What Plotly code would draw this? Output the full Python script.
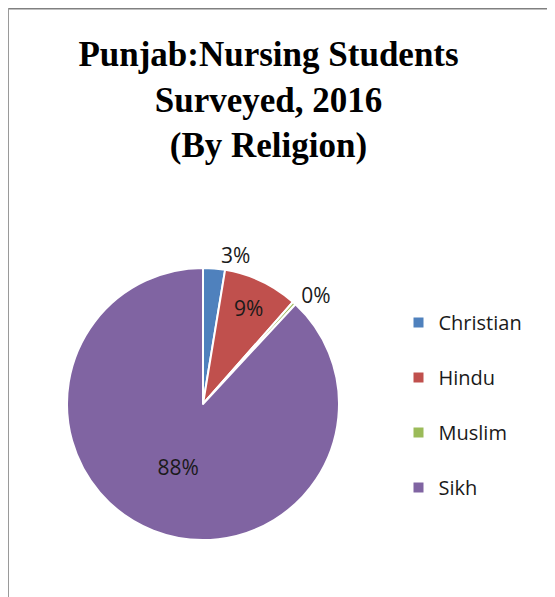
import plotly.graph_objects as go

categories = ["Christian", "Hindu", "Muslim", "Sikh"]
shares = [2.6, 8.9, 0.4, 88.1]
colors = ["#4F81BD", "#C0504D", "#9BBB59", "#8064A2"]
text_positions = ["outside", "inside", "outside", "inside"]
title_text = "Punjab:Nursing Students<br>Surveyed, 2016<br>(By Religion)"

# the page adds an 8px body margin, so the figure is sized to fit the window
W, H = 547, 589

# legend labels get a blank second line to reproduce the wide item spacing
legend_labels = [c + "<br> " for c in categories]

label_font = dict(family="Open Sans", size=21, color="#1a1a1a")

fig = go.Figure()
fig.add_trace(go.Pie(
    labels=legend_labels,
    values=shares,
    sort=False,
    direction="clockwise",
    rotation=0,
    marker=dict(colors=colors, line=dict(color="white", width=2)),
    textinfo="percent",
    texttemplate="%{percent:.0%}",
    textposition=text_positions,
    insidetextorientation="horizontal",
    textfont=label_font,
    outsidetextfont=label_font,
    insidetextfont=label_font,
    hovertemplate="%{label}%{percent}<extra></extra>",
    domain=dict(x=[59 / W, 331 / W], y=[1 - 532 / H, 1 - 260 / H]),
))

fig.update_layout(
    width=W, height=H,
    margin=dict(l=0, r=0, t=0, b=0),
    paper_bgcolor="white",
    plot_bgcolor="white",
    title=dict(
        text=title_text,
        font=dict(family="Liberation Serif", size=35, color="black", weight="bold"),
        x=260.5 / W, xanchor="center", xref="paper",
        y=1 - 58 / H, yanchor="top", yref="paper",
    ),
    legend=dict(
        x=390.5 / W, xanchor="left",
        y=1 - 295 / H, yanchor="top",
        font=dict(family="Open Sans", size=20, color="#1a1a1a"),
        valign="top",
        bgcolor="rgba(0,0,0,0)",
    ),
    shapes=[
        dict(type="line", xref="paper", yref="paper",
             x0=0, x1=1, y0=1 - 0.5 / H, y1=1 - 0.5 / H,
             line=dict(color="#808080", width=2)),
        dict(type="line", xref="paper", yref="paper",
             x0=0.5 / W, x1=0.5 / W, y0=0, y1=1,
             line=dict(color="#9a9a9a", width=1)),
    ],
)

fig.write_html("out.html")
